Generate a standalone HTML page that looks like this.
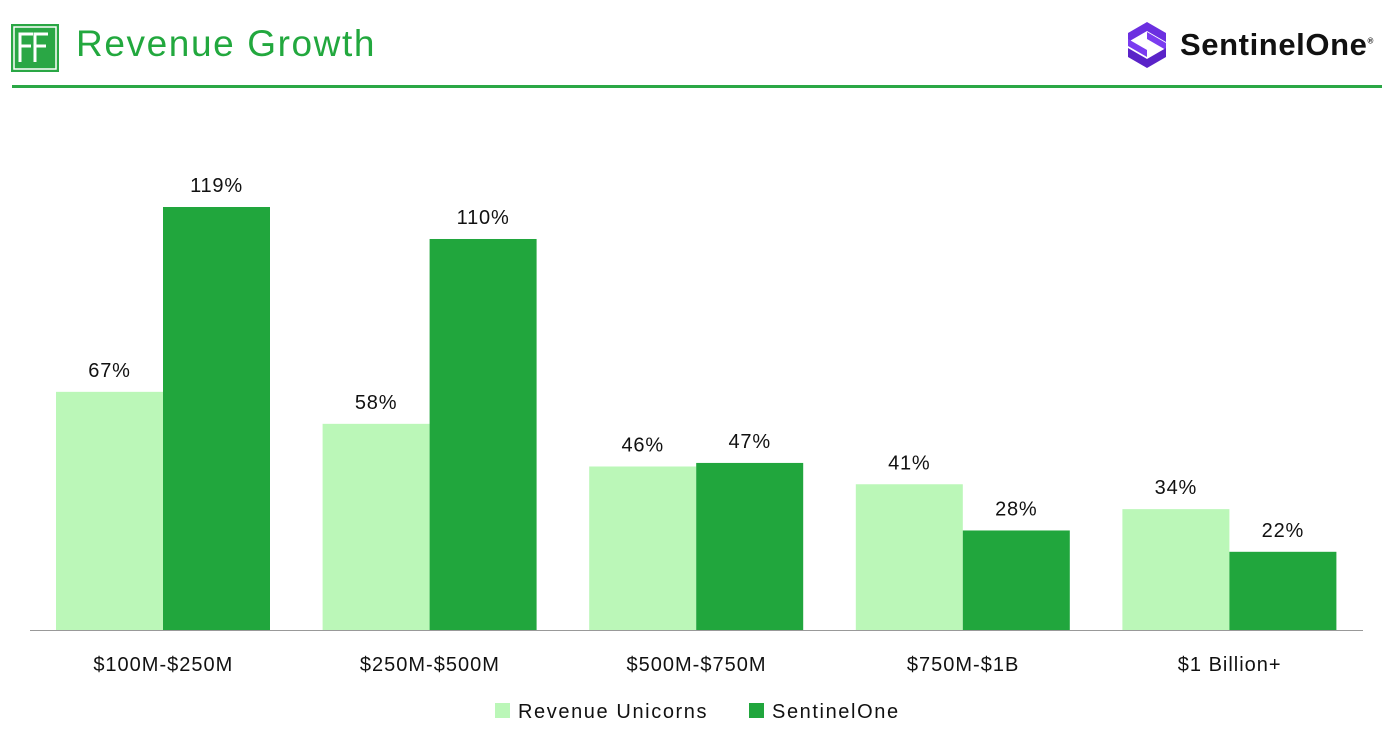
<!DOCTYPE html>
<html><head><meta charset="utf-8"><style>
body{margin:0;width:1390px;height:732px;background:#fff;font-family:"Liberation Sans",sans-serif;position:relative;overflow:hidden}
</style></head><body>
<div>
<svg style="position:absolute;left:11px;top:24px" width="48" height="48" viewBox="0 0 48 48">
<rect x="0" y="0" width="48" height="48" fill="#2aa745"/>
<rect x="3" y="3" width="42" height="42" fill="none" stroke="#fff" stroke-width="1.5"/>
<path d="M9 38V10h13M9 22h11M24 38V10h13M24 22h11" stroke="#fff" stroke-width="3" fill="none"/>
</svg>
<div style="position:absolute;left:76px;top:23px;font-size:37px;color:#22a83e;letter-spacing:1.6px">Revenue Growth</div>
<svg style="position:absolute;left:1128px;top:22px" width="38" height="46" viewBox="0 0 38 46">
<path d="M19 0L38 11V20L19 9L0 20V11Z" fill="#6b2fe0"/>
<path d="M0 17L19 28V35L0 24Z M38 28L19 17V10L38 21Z" fill="#7b3cf0"/>
<path d="M19 46L0 35V26L19 37L38 26V35Z" fill="#5a23c8"/>
</svg>
<div style="position:absolute;left:1180px;top:27px;font-size:31px;font-weight:bold;color:#111;letter-spacing:0.6px">SentinelOne<sup style="font-size:8px">®</sup></div>
<div style="position:absolute;left:12px;top:85px;width:1370px;height:3px;background:#2aa745"></div>
</div>
<svg id="chart" style="position:absolute;left:0;top:0" width="1390" height="732"></svg>
<script>
const categories=["$100M-$250M","$250M-$500M","$500M-$750M","$750M-$1B","$1 Billion+"];
const unicorns=[67,58,46,41,34];
const sentinel=[119,110,47,28,22];
const seriesNames=["Revenue Unicorns","SentinelOne"];
const NS="http://www.w3.org/2000/svg";
const svg=document.getElementById('chart');
const x0=30,x1=1363,base=630,pxPer=423/119;
const gw=(x1-x0)/categories.length,bw=107,off=26;
const y=v=>base-v*pxPer;
function mk(t,a){const e=document.createElementNS(NS,t);for(const k in a)e.setAttribute(k,a[k]);svg.appendChild(e);return e;}
const cols=["#bbf7b8","#21a63d"];
[unicorns,sentinel].forEach((s,si)=>{
 s.forEach((v,i)=>{
  const bx=x0+i*gw+off+si*bw;
  const r=mk('rect',{x:bx,y:y(v),width:bw,height:base-y(v),fill:cols[si]});
  
  
  const t=mk('text',{x:bx+bw/2,y:y(v)-15,'text-anchor':'middle','font-size':20,fill:'#111','letter-spacing':'0.8','font-family':'Liberation Sans, sans-serif'});
  t.textContent=v+'%';
  
  
 });
});
const ax=mk('line',{x1:x0,x2:x1,y1:base+0.5,y2:base+0.5,stroke:'#999','stroke-width':1});


categories.forEach((c,i)=>{
 const t=mk('text',{x:x0+i*gw+gw/2,y:671,'text-anchor':'middle','font-size':20,fill:'#111','letter-spacing':'1','font-family':'Liberation Sans, sans-serif'});
 t.textContent=c;
 
 
});
const lx=[495,749];
seriesNames.forEach((n,i)=>{
 const r=mk('rect',{x:lx[i],y:703,width:15,height:15,fill:cols[i]});
 
 
 const t=mk('text',{x:lx[i]+23,y:718,'font-size':20,fill:'#111','letter-spacing':'1.6','font-family':'Liberation Sans, sans-serif'});
 t.textContent=n;
 
 
});
</script>
</body></html>
